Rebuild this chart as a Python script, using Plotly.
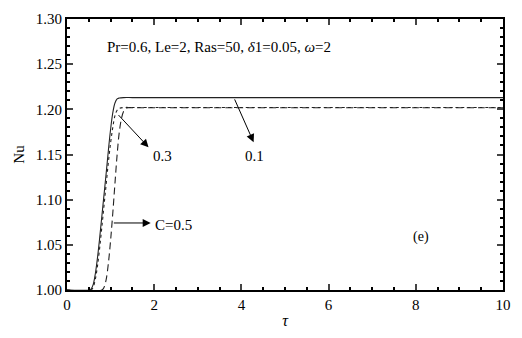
import plotly.graph_objects as go

# C = 0.1 (solid)
tau_c01 = [0.0, 0.5, 0.55, 0.6, 0.65, 0.7, 0.75, 0.8, 0.85, 0.9, 0.95, 1.0, 1.05, 1.1, 1.15, 1.2, 1.3, 1.5, 2.0, 4.0, 6.0, 8.0, 10.0]
nu_c01 = [1.0, 1.0, 1.001, 1.006, 1.018, 1.036, 1.058, 1.082, 1.106, 1.13, 1.155, 1.178, 1.196, 1.207, 1.2115, 1.2125, 1.213, 1.213, 1.213, 1.213, 1.213, 1.213, 1.213]

# C = 0.3 (dotted)
tau_c03 = [0.0, 0.55, 0.6, 0.65, 0.7, 0.75, 0.8, 0.85, 0.9, 0.95, 1.0, 1.05, 1.1, 1.15, 1.2, 1.3, 1.5, 2.0, 4.0, 6.0, 8.0, 10.0]
nu_c03 = [1.0, 1.0, 1.003, 1.012, 1.027, 1.047, 1.07, 1.094, 1.118, 1.142, 1.163, 1.18, 1.193, 1.199, 1.201, 1.202, 1.202, 1.202, 1.202, 1.202, 1.202, 1.202]

# C = 0.5 (dashed)
tau_c05 = [0.0, 0.8, 0.85, 0.9, 0.95, 1.0, 1.05, 1.1, 1.15, 1.2, 1.25, 1.3, 1.35, 1.4, 1.5, 2.0, 4.0, 6.0, 8.0, 10.0]
nu_c05 = [1.0, 1.0, 1.003, 1.012, 1.03, 1.055, 1.085, 1.118, 1.15, 1.175, 1.19, 1.198, 1.201, 1.2018, 1.2018, 1.2018, 1.2018, 1.2018, 1.2018, 1.2018]

x_ticks = [0, 2, 4, 6, 8, 10]
y_ticks = [1.00, 1.05, 1.10, 1.15, 1.20, 1.25, 1.30]
y_tick_labels = ["1.00", "1.05", "1.10", "1.15", "1.20", "1.25", "1.30"]

FONT = "Liberation Serif"
FS = 15

fig = go.Figure()
fig.add_trace(go.Scatter(x=tau_c01, y=nu_c01, mode="lines",
                         line=dict(color="#222222", width=1.1, dash="solid", shape="spline"), name="C=0.1"))
fig.add_trace(go.Scatter(x=tau_c03, y=nu_c03, mode="lines",
                         line=dict(color="#222222", width=1.1, dash="dot", shape="spline"), name="C=0.3"))
fig.add_trace(go.Scatter(x=tau_c05, y=nu_c05, mode="lines",
                         line=dict(color="#222222", width=1.1, dash="7px,4px", shape="spline"), name="C=0.5"))

annos = [
    dict(x=1.87, y=1.158, ax=1.15, ay=1.1953),
    dict(x=4.28, y=1.1636, ax=3.83, ay=1.2127),
    dict(x=1.92, y=1.0742, ax=1.04, ay=1.0742),
]
for a in annos:
    fig.add_annotation(x=a["x"], y=a["y"], ax=a["ax"], ay=a["ay"], xref="x", yref="y",
                       axref="x", ayref="y", text="", showarrow=True, arrowhead=2,
                       arrowsize=1.6, arrowwidth=1, arrowcolor="black")

fig.add_annotation(x=2.2, y=1.1484, text="0.3", showarrow=False, xref="x", yref="y",
                   font=dict(family=FONT, size=FS, color="black"))
fig.add_annotation(x=4.3, y=1.1484, text="0.1", showarrow=False, xref="x", yref="y",
                   font=dict(family=FONT, size=FS, color="black"))
fig.add_annotation(x=1.98, y=1.0725, text="C=0.5", showarrow=False, xref="x", yref="y",
                   xanchor="left", font=dict(family=FONT, size=FS, color="black"))
fig.add_annotation(x=8.13, y=1.059, text="(e)", showarrow=False, xref="x", yref="y",
                   font=dict(family=FONT, size=FS - 1, color="black"))
fig.add_annotation(x=0.86, y=1.2695, text="Pr=0.6, Le=2, Ras=50, <i>δ</i>1=0.05, <i>ω</i>=2",
                   showarrow=False, xref="x", yref="y", xanchor="left",
                   font=dict(family=FONT, size=FS, color="black"))

fig.update_layout(
    width=522, height=338,
    margin=dict(l=67, r=11, t=17, b=46),
    paper_bgcolor="white", plot_bgcolor="white",
    showlegend=False,
    font=dict(family=FONT, size=FS, color="black"),
)
fig.update_xaxes(range=[0, 10], tickvals=x_ticks, ticks="inside", ticklen=6, tickwidth=2,
                 showline=True, linewidth=2, linecolor="black", mirror="ticks",
                 showgrid=False, zeroline=False,
                 minor=dict(dtick=0.5, ticks="inside", ticklen=3, tickwidth=1.5, tickcolor="black"),
                 title=dict(text="<i>τ</i>", font=dict(family=FONT, size=16), standoff=3),
                 tickfont=dict(family=FONT, size=FS, color="black"))
fig.update_yaxes(range=[1.0, 1.30], tickvals=y_ticks, ticktext=y_tick_labels, ticks="inside",
                 ticklen=6, tickwidth=2,
                 showline=True, linewidth=2, linecolor="black", mirror="ticks",
                 showgrid=False, zeroline=False,
                 minor=dict(dtick=0.01, ticks="inside", ticklen=3, tickwidth=1.5, tickcolor="black"),
                 title=dict(text="Nu", font=dict(family=FONT, size=FS), standoff=8),
                 tickfont=dict(family=FONT, size=FS, color="black"))

fig.write_html("out.html")
